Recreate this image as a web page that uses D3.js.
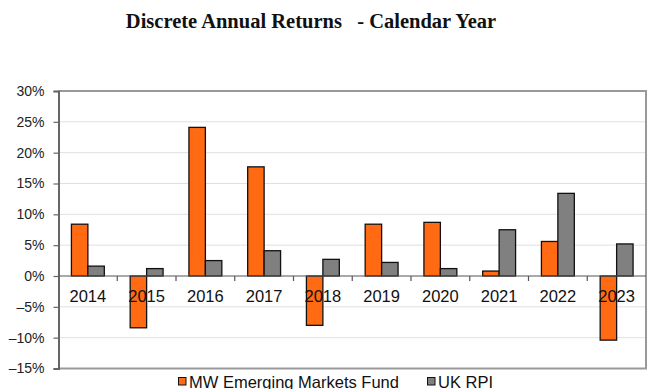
<!DOCTYPE html>
<html>
<head>
<meta charset="utf-8">
<script src="https://cdn.jsdelivr.net/npm/d3@7"></script>
<style>
  html, body { margin: 0; padding: 0; background: #fff; }
  svg { display: block; }
</style>
</head>
<body>
<svg id="chart" width="648" height="389"></svg>
<script>
// Calendar years and series values (percent)
const years = ["2014", "2015", "2016", "2017", "2018", "2019", "2020", "2021", "2022", "2023"];
const fundReturns = [8.4, -8.4, 24.1, 17.7, -8.0, 8.4, 8.7, 0.8, 5.6, -10.4];
const rpiReturns = [1.6, 1.2, 2.5, 4.1, 2.7, 2.2, 1.2, 7.5, 13.4, 5.2];
const seriesNames = ["MW Emerging Markets Fund", "UK RPI"];
const seriesColors = ["#ff6a13", "#808080"];
const yTicks = [-15, -10, -5, 0, 5, 10, 15, 20, 25, 30];

const svg = d3.select("#chart");
const plot = { left: 58.5, right: 646, top: 91, bottom: 368.5 };

const x = d3.scaleBand()
  .domain(years)
  .range([plot.left, plot.right])
  .paddingInner(0.44)
  .paddingOuter(0.22);
const xSub = d3.scaleBand().domain([0, 1]).range([0, x.bandwidth()]).padding(0);
const y = d3.scaleLinear().domain([-15, 30]).range([plot.bottom, plot.top]);

// Title
svg.append("text")
  .attr("x", 311).attr("y", 28)
  .attr("text-anchor", "middle")
  .attr("font-family", "'Liberation Serif', 'Times New Roman', serif")
  .attr("font-weight", "bold")
  .attr("font-size", 20.5)
  .attr("fill", "#111")
  .style("white-space", "pre")
  .text("Discrete Annual Returns   - Calendar Year");

// Horizontal gridlines
svg.append("g")
  .selectAll("line")
  .data(yTicks.filter(t => t !== 0 && t !== 30 && t !== -15))
  .join("line")
  .attr("x1", plot.left).attr("x2", plot.right)
  .attr("y1", d => y(d)).attr("y2", d => y(d))
  .attr("stroke", "#e0e0e0").attr("stroke-width", 1);

// Plot frame (top, right, bottom)
svg.append("path")
  .attr("d", `M${plot.left},${y(30)}H${plot.right}V${y(-15)}H${plot.left}`)
  .attr("fill", "none").attr("stroke", "#999").attr("stroke-width", 2);

// Y axis
const yAxis = d3.axisLeft(y)
  .tickValues(yTicks)
  .tickSize(5)
  .tickPadding(9)
  .tickFormat(d => (d < 0 ? "\u2013" + Math.abs(d) : d) + "%");
const gy = svg.append("g")
  .attr("transform", `translate(${plot.left},0)`)
  .call(yAxis);
gy.select(".domain").attr("stroke", "#666").attr("stroke-width", 2);
gy.selectAll(".tick line").attr("stroke", "#666").attr("stroke-width", 1.2);
gy.selectAll(".tick text")
  .attr("font-family", "'Liberation Sans', Arial, sans-serif")
  .attr("font-size", 14)
  .attr("fill", "#222");

// Bars
const groups = svg.append("g")
  .selectAll("g")
  .data(years.map((yr, i) => ({ yr, vals: [fundReturns[i], rpiReturns[i]] })))
  .join("g")
  .attr("transform", d => `translate(${x(d.yr)},0)`);

groups.selectAll("rect")
  .data(d => d.vals.map((v, k) => ({ v, k })))
  .join("rect")
  .attr("x", d => xSub(d.k))
  .attr("width", xSub.bandwidth())
  .attr("y", d => y(Math.max(0, d.v)))
  .attr("height", d => Math.abs(y(d.v) - y(0)))
  .attr("fill", d => seriesColors[d.k])
  .attr("stroke", "#111")
  .attr("stroke-width", 1.3);

// Zero baseline with category separators
const step = x.step();
svg.append("line")
  .attr("x1", plot.left).attr("x2", plot.right)
  .attr("y1", y(0)).attr("y2", y(0))
  .attr("stroke", "#555").attr("stroke-width", 1.2);
svg.append("g")
  .selectAll("line")
  .data(years.slice(1))
  .join("line")
  .attr("x1", d => x(d) - x.paddingOuter() * step)
  .attr("x2", d => x(d) - x.paddingOuter() * step)
  .attr("y1", y(0)).attr("y2", y(0) + 5)
  .attr("stroke", "#555").attr("stroke-width", 1.2);

// Category labels, drawn over the bars
svg.append("g")
  .selectAll("text")
  .data(years)
  .join("text")
  .attr("x", d => x(d) + x.bandwidth() / 2)
  .attr("y", y(0) + 26)
  .attr("text-anchor", "middle")
  .attr("font-family", "'Liberation Sans', Arial, sans-serif")
  .attr("font-size", 16.5)
  .attr("fill", "#111")
  .text(d => d);

// Legend
const legendItems = [
  { name: seriesNames[0], color: seriesColors[0], x: 178 },
  { name: seriesNames[1], color: seriesColors[1], x: 427 }
];
const lg = svg.append("g")
  .selectAll("g")
  .data(legendItems)
  .join("g")
  .attr("transform", d => `translate(${d.x},0)`);
lg.append("rect")
  .attr("x", 0.5).attr("y", 377.5)
  .attr("width", 7.5).attr("height", 7.5)
  .attr("fill", d => d.color)
  .attr("stroke", "#111").attr("stroke-width", 1);
lg.append("text")
  .attr("x", 11).attr("y", 387.5)
  .attr("font-family", "'Liberation Sans', Arial, sans-serif")
  .attr("font-size", 16.5)
  .attr("fill", "#111")
  .text(d => d.name);
</script>
</body>
</html>
